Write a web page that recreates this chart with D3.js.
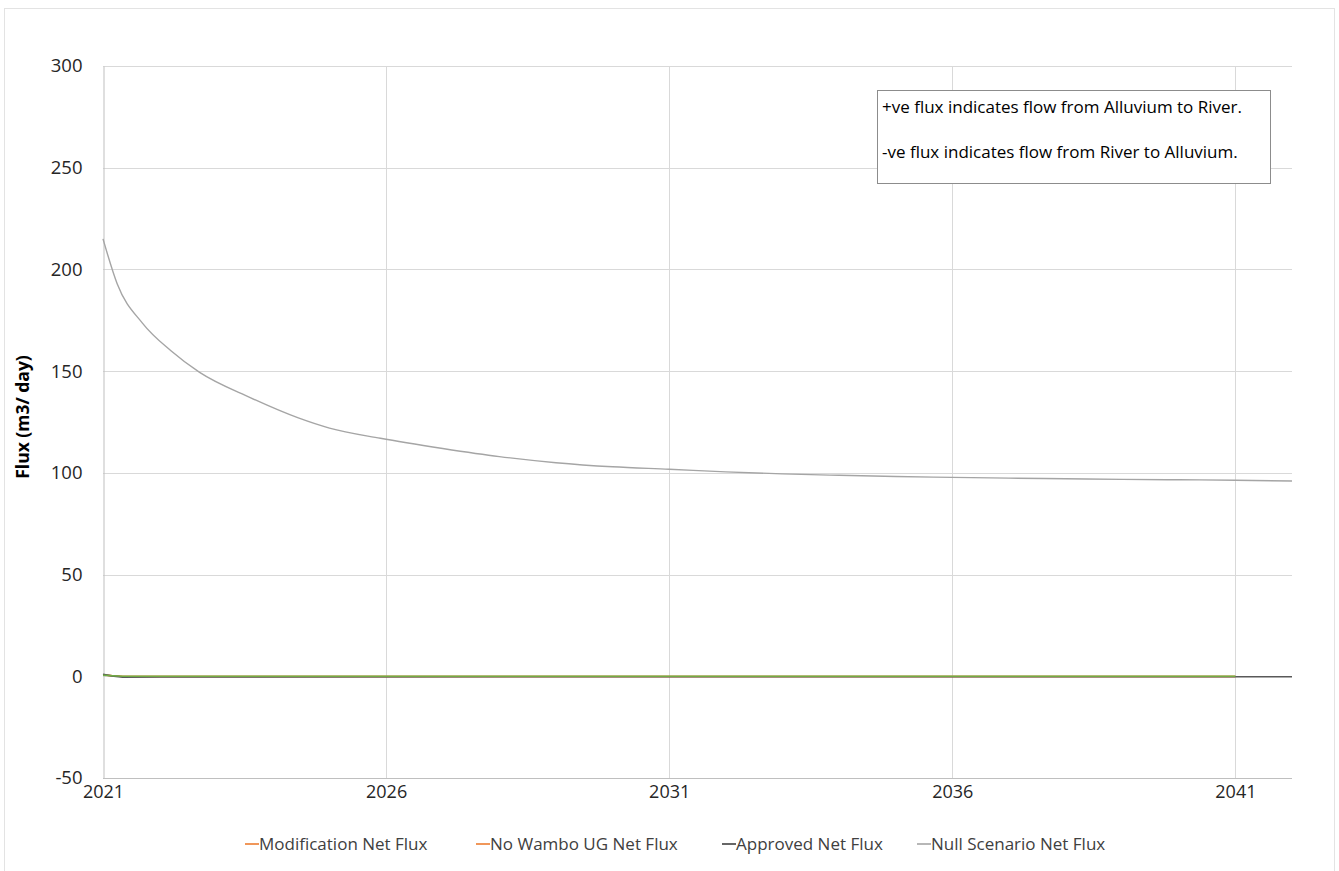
<!DOCTYPE html>
<html><head><meta charset="utf-8">
<script src="https://cdn.jsdelivr.net/npm/d3@7/dist/d3.min.js"></script>
<style>body{margin:0;background:#fff;} svg{display:block;}</style>
</head><body>
<svg id="c" width="1339" height="871"></svg>
<script>
// ---- data ----
const nullYears  = [2021.0,2021.25,2021.7,2022.2,2022.7,2023.6,2024.45,2025.0,2025.9,2027.0,2028,2029,2030,2031,2032,2033,2034,2035,2036,2037,2038,2039,2040,2041,2042];
const nullValues = [215,193,173.5,160,149.5,137,127,122,117,112,108,105,103,101.8,100.5,99.5,98.8,98.2,97.8,97.4,97.1,96.8,96.6,96.4,96.0];
const approvedYears  = [2021.0,2021.15,2021.35,2022,2030,2042];
const approvedValues = [1.0,0.2,-0.4,-0.3,-0.2,-0.2];
const modYears  = [2021.0,2021.35,2030,2041];
const modValues = [0.6,-0.1,-0.1,-0.1];
const noWamboYears  = [2021.0,2021.35,2030,2041];
const noWamboValues = [0.6,-0.1,-0.1,-0.1];
const extraYears  = [2021.0,2021.35,2030,2041];
const extraValues = [0.5,0,0,0];
const yTicks = [-50,0,50,100,150,200,250,300];
const xTicks = [2021,2026,2031,2036,2041];
const legendNames = ["Modification Net Flux","No Wambo UG Net Flux","Approved Net Flux","Null Scenario Net Flux"];
const legendColors = ["#ED7D31","#ED7D31","#404040","#A5A5A5"];
const noteLines = ["+ve flux indicates flow from Alluvium to River.","-ve flux indicates flow from River to Alluvium."];

const svg = d3.select("#c");
const FONT = "'Open Sans', 'Noto Sans', sans-serif";
const m = {l:103, r:1292, t:66, b:778};
const x = d3.scaleLinear().domain([2021,2042]).range([m.l,m.r]);
const y = d3.scaleLinear().domain([-50,300]).range([m.b,m.t]);

// outer frame
svg.append("rect").attr("x",4.5).attr("y",8.5).attr("width",1330).attr("height",880)
  .attr("fill","none").attr("stroke","#e3e3e3");

// gridlines
svg.append("g").selectAll("line").data(yTicks.filter(d=>d>-50)).join("line")
  .attr("x1",m.l).attr("x2",m.r).attr("y1",d=>Math.round(y(d))+0.5).attr("y2",d=>Math.round(y(d))+0.5)
  .attr("stroke","#d9d9d9").attr("stroke-width",1);
svg.append("g").selectAll("line").data(xTicks.filter(d=>d>2021)).join("line")
  .attr("y1",m.t).attr("y2",m.b).attr("x1",d=>Math.round(x(d))+0.5).attr("x2",d=>Math.round(x(d))+0.5)
  .attr("stroke","#d9d9d9").attr("stroke-width",1);

// axes
const yAxis = d3.axisLeft(y).tickValues(yTicks).tickSize(0).tickPadding(0).tickFormat(d=>String(d));
const gy = svg.append("g").attr("transform",`translate(${m.l+0.5},0)`).call(yAxis);
gy.select(".domain").attr("stroke","#bfbfbf");
gy.selectAll("text").attr("x",-21).attr("font-family",FONT).attr("font-size",18.5).attr("fill","#262626");

const xAxis = d3.axisBottom(x).tickValues(xTicks).tickFormat(d3.format("d")).tickSize(0);
const gx = svg.append("g").attr("transform",`translate(0,${m.b+0.5})`).call(xAxis);
gx.select(".domain").attr("stroke","#bfbfbf").attr("d",`M${m.l},0H${m.r}`);
gx.selectAll("text").attr("y",7).attr("font-family",FONT).attr("font-size",18).attr("fill","#262626");

// y label
svg.append("text").attr("transform",`translate(29,417) rotate(-90)`)
  .attr("text-anchor","middle").attr("font-family",FONT).attr("font-size",17.5).attr("font-weight","bold")
  .attr("fill","#000").text("Flux (m3/ day)");

// lines
const series = [
  {xs:modYears, vs:modValues, c:"#ED7D31", w:1.6},
  {xs:noWamboYears, vs:noWamboValues, c:"#ED7D31", w:1.6},
  {xs:approvedYears, vs:approvedValues, c:"#595959", w:1.6},
  {xs:extraYears, vs:extraValues, c:"#70AD47", w:1.6},
  {xs:nullYears, vs:nullValues, c:"#A5A5A5", w:1.4, curve:true}
];
series.forEach(s=>{
  const l = d3.line().x(d=>x(d[0])).y(d=>y(d[1])).curve(s.curve ? d3.curveMonotoneX : d3.curveLinear);
  svg.append("path").datum(d3.zip(s.xs,s.vs)).attr("d",l)
    .attr("fill","none").attr("stroke",s.c).attr("stroke-width",s.w);
});

// annotation box
svg.append("rect").attr("x",877.5).attr("y",90.5).attr("width",393).attr("height",93)
  .attr("fill","#fff").attr("stroke","#8c8c8c");
svg.append("g").selectAll("text").data(noteLines).join("text")
  .attr("x",882).attr("y",(d,i)=>113+i*45).attr("font-family",FONT).attr("font-size",17)
  .attr("fill","#000").text(d=>d);

// legend
const legX = [245,476,722,917];
const lg = svg.append("g").selectAll("g").data(legendNames).join("g")
  .attr("transform",(d,i)=>`translate(${legX[i]},844)`);
lg.append("line").attr("x1",0).attr("x2",14).attr("stroke",(d,i)=>legendColors[i]).attr("stroke-width",1.6);
lg.append("text").attr("x",14).attr("y",6).attr("font-family",FONT).attr("font-size",17)
  .attr("fill","#404040").text(d=>d);
</script>
</body></html>
